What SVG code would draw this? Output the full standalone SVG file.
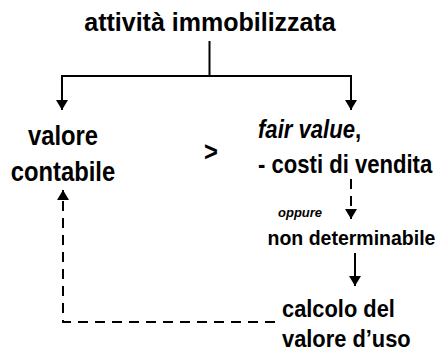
<svg xmlns="http://www.w3.org/2000/svg" width="437" height="354" viewBox="0 0 437 354">
<style>
text{font-family:"Liberation Sans",Arial,sans-serif;font-weight:bold;fill:#000}
.solid{fill:none;stroke:#000;stroke-width:2}
.dash{fill:none;stroke:#000;stroke-width:2;stroke-dasharray:10 7}
</style>
<defs>
<marker id="ah" viewBox="0 0 10 12" refX="10" refY="6" markerWidth="10" markerHeight="12" markerUnits="userSpaceOnUse" orient="auto">
<path d="M0,0 L10,6 L0,12 Z" fill="#000"/>
</marker>
</defs>
<rect width="437" height="354" fill="#fff"/>
<g id="connectors">
<polyline class="solid" points="209.5,41 209.5,76"/>
<polyline class="solid" points="62,76 351,76"/>
<line class="solid" x1="62" y1="75" x2="62" y2="110" marker-end="url(#ah)"/>
<line class="solid" x1="351" y1="75" x2="351" y2="110" marker-end="url(#ah)"/>
<line class="dash" x1="351" y1="179" x2="351" y2="219" marker-end="url(#ah)"/>
<line class="solid" x1="355" y1="253" x2="355" y2="286" marker-end="url(#ah)"/>
<polyline class="dash" points="275,322 63,322 63,190" marker-end="url(#ah)"/>
</g>
<g id="n_attivita"><text x="210" y="31" font-size="25" text-anchor="middle">attività immobilizzata</text></g>
<g id="n_valore"><text transform="translate(63,145) scale(0.85,1)" font-size="28" text-anchor="middle">valore</text><text transform="translate(63,181) scale(0.85,1)" font-size="28" text-anchor="middle">contabile</text></g>
<g id="n_gt"><text transform="translate(211,161) scale(0.85,1)" font-size="28" text-anchor="middle">&gt;</text></g>
<g id="n_fair"><text transform="translate(258,138) scale(0.85,1)" font-size="26"><tspan font-style="italic">fair value</tspan>,</text><text transform="translate(258,173) scale(0.85,1)" font-size="26">- costi di vendita</text></g>
<g id="n_oppure"><text x="278" y="217" font-size="13" font-style="italic">oppure</text></g>
<g id="n_nondet"><text x="351.5" y="245" font-size="19.5" text-anchor="middle">non determinabile</text></g>
<g id="n_calcolo"><text transform="translate(282,317) scale(0.91,1)" font-size="24">calcolo del</text><text transform="translate(282,347) scale(0.91,1)" font-size="24">valore d’uso</text></g>
</svg>
